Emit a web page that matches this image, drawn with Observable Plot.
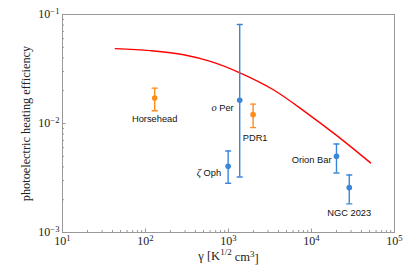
<!DOCTYPE html>
<html><head><meta charset="utf-8">
<script src="https://cdn.jsdelivr.net/npm/d3@7"></script>
<script src="https://cdn.jsdelivr.net/npm/@observablehq/plot@0.6"></script>
<style>body{margin:0;background:#fff}</style>
</head><body><div id="chart"></div>
<script>
// ---- data ----
const sources = ["Horsehead", "o Per", "PDR1", "ζ Oph", "Orion Bar", "NGC 2023"];
const gamma = [129, 1365, 1980, 990, 20000, 28500];
const efficiency = [0.0171, 0.0163, 0.01205, 0.00405, 0.0050, 0.00258];
const errLow = [0.0131, 0.00323, 0.00917, 0.00283, 0.00352, 0.00183];
const errHigh = [0.0211, 0.081, 0.01507, 0.0056, 0.00649, 0.00337];
const groups = ["A", "B", "A", "B", "B", "B"];

const curveGamma = [43.3, 114, 288, 605, 1327, 3510, 8870, 20400, 51500];
const curveEff = [0.0486, 0.0466, 0.0427, 0.0371, 0.0295, 0.0203, 0.0124, 0.0077, 0.00435];

const xTicks = [10, 100, 1000, 10000, 100000];
const xTickLabels = ["10^1", "10^2", "10^3", "10^4", "10^5"];
const yTicks = [0.001, 0.01, 0.1];
const yTickLabels = ["10^−3", "10^−2", "10^−1"];
const xMinor = [20,30,40,50,60,70,80,90,200,300,400,500,600,700,800,900,2000,3000,4000,5000,6000,7000,8000,9000,20000,30000,40000,50000,60000,70000,80000,90000];
const yMinor = [0.002,0.003,0.004,0.005,0.006,0.007,0.008,0.009,0.02,0.03,0.04,0.05,0.06,0.07,0.08,0.09];
const xTitle = "γ [K^1/2 cm^3]";
const yTitle = "photoelectric heating efficiency";

// ---- styles (label placement) ----
const labelStyle = [
  {anchor: "middle", dx: 0, dy: 21},
  {anchor: "end", dx: -6, dy: 8},
  {anchor: "middle", dx: 2, dy: 23},
  {anchor: "end", dx: -7, dy: 7},
  {anchor: "end", dx: -5, dy: 4},
  {anchor: "middle", dx: 0, dy: 25}
];

const table = sources.map((s, i) => ({source: s, gamma: gamma[i], eff: efficiency[i], lo: errLow[i], hi: errHigh[i], group: groups[i]}));
const curve = curveGamma.map((g, i) => ({gamma: g, eff: curveEff[i]}));

const W = 415, H = 274, mL = 62, mR = 21, mT = 14, mB = 42;
const fw = W - mL - mR, fh = H - mT - mB;
const serif = "'Liberation Serif', 'DejaVu Serif', serif";
const sans = "'Liberation Sans', 'DejaVu Sans', sans-serif";
const capShape = {draw(ctx, l) { ctx.moveTo(0, 0); ctx.lineTo(0, -l); }};

const marks = [
  Plot.frame({stroke: "#999", strokeWidth: 1}),
  Plot.tickX(xMinor, {x: d => d, stroke: "#999", insetTop: fh - 2}),
  Plot.tickX(xTicks, {x: d => d, stroke: "#999", insetTop: fh - 3.5}),
  Plot.tickY(yMinor, {y: d => d, stroke: "#999", insetRight: fw - 2}),
  Plot.tickY(yTicks, {y: d => d, stroke: "#999", insetRight: fw - 3.5}),
  Plot.axisX({ticks: xTicks, tickSize: 0, tickPadding: 4, tickFormat: d => xTickLabels[xTicks.indexOf(d)], fontFamily: serif, fontSize: 12, fill: "#222", label: null}),
  Plot.axisY({ticks: yTicks, tickSize: 0, tickPadding: 3, tickFormat: d => yTickLabels[yTicks.indexOf(d)], fontFamily: serif, fontSize: 12, fill: "#222", label: null}),
  Plot.text([xTitle], {frameAnchor: "bottom", textAnchor: "middle", lineAnchor: "middle", dy: 23, fontFamily: serif, fontSize: 12.5, fill: "#222"}),
  Plot.text([yTitle], {frameAnchor: "left", textAnchor: "middle", lineAnchor: "middle", dx: -36, rotate: -90, fontFamily: serif, fontSize: 12.3, fill: "#222"}),
  Plot.line(curve, {x: "gamma", y: "eff", stroke: "#ff0000", strokeWidth: 1.4, curve: "monotone-x"}),
  Plot.ruleX(table, {x: "gamma", y1: "lo", y2: "hi", stroke: "group", strokeWidth: 1.4}),
  Plot.vector(table, {x: "gamma", y: "lo", length: 5, rotate: 90, shape: capShape, stroke: "group", strokeWidth: 1.4}),
  Plot.vector(table, {x: "gamma", y: "hi", length: 5, rotate: 90, shape: capShape, stroke: "group", strokeWidth: 1.4}),
  Plot.dot(table, {x: "gamma", y: "eff", fill: "group", r: 2.8, stroke: null})
];
table.forEach((d, i) => {
  const st = labelStyle[i];
  marks.push(Plot.text([d], {x: "gamma", y: "eff", text: "source", textAnchor: st.anchor, dx: st.dx, dy: st.dy, fontFamily: sans, fontSize: 9.3, fill: "#111"}));
});

const svg = Plot.plot({
  width: W, height: H,
  marginLeft: mL, marginRight: mR, marginTop: mT, marginBottom: mB,
  x: {type: "log", domain: [10, 100000]},
  y: {type: "log", domain: [0.001, 0.1]},
  color: {domain: ["A", "B"], range: ["#ff8c1a", "#3a86d8"]},
  style: {background: "#fff"},
  marks
});
document.getElementById("chart").append(svg);

// post-process: superscripts and italic symbols
const sup = (el, t) => el.append("tspan").attr("dy", "-0.45em").attr("font-size", "72%").text(t);
d3.select(svg).selectAll("text").each(function() {
  const t = this.textContent;
  const el = d3.select(this);
  if (t === xTitle) {
    this.textContent = "";
    el.append("tspan").text("γ [K");
    sup(el, "1/2");
    el.append("tspan").attr("dy", "0.45em").text(" cm");
    sup(el, "3");
    el.append("tspan").attr("dy", "0.45em").text("]");
  } else if (/^10\^/.test(t)) {
    const [base, exp] = t.split("^");
    this.textContent = "";
    el.append("tspan").text(base);
    sup(el, exp);
  } else if (t === "o Per" || t === "ζ Oph") {
    this.textContent = "";
    el.append("tspan").attr("font-family", serif).attr("font-style", "italic").attr("font-size", "112%").text(t[0]);
    el.append("tspan").text(t.slice(1));
  }
});
</script>
</body></html>
